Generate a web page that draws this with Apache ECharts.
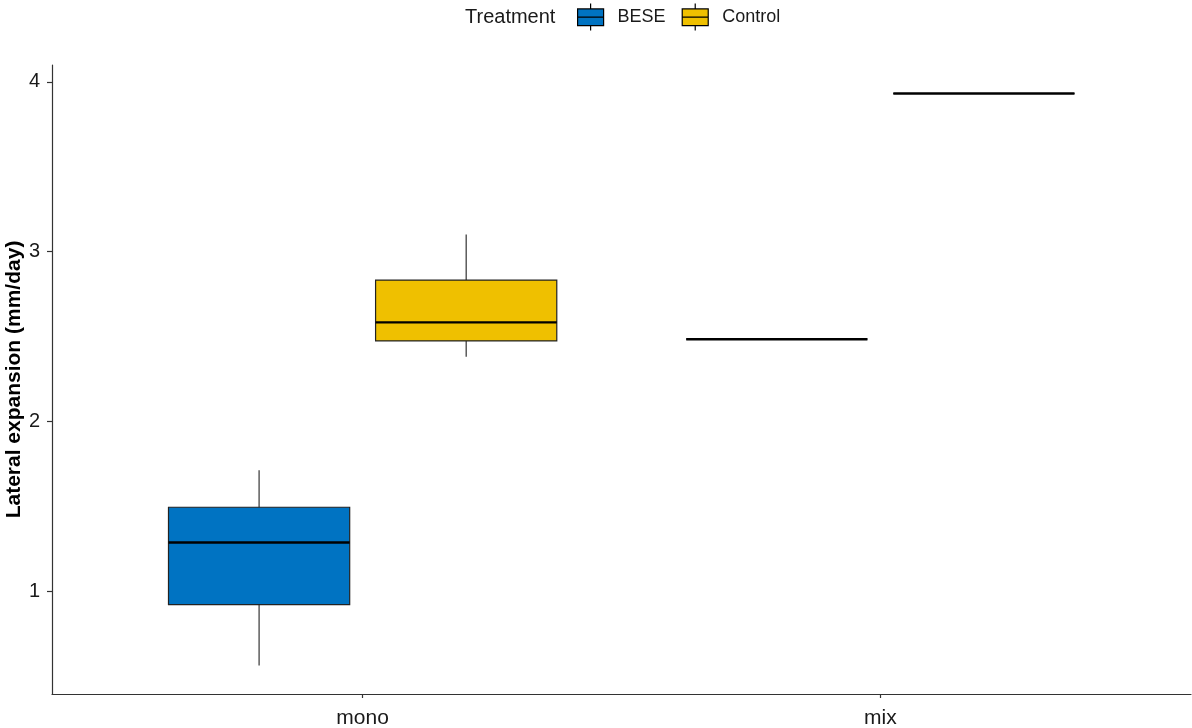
<!DOCTYPE html>
<html>
<head>
<meta charset="utf-8">
<title>Lateral expansion by treatment</title>
<script src="https://cdn.jsdelivr.net/npm/echarts@6/dist/echarts.min.js"></script>
<style>
  html, body { margin: 0; padding: 0; background: #ffffff; }
  #chart { width: 1192px; height: 728px; }
</style>
</head>
<body>
<div id="chart"></div>
<script>
// Community type on the x axis (plotted at positions 1, 2)
const categories = ['mono', 'mix'];
// Box statistics per category: [lower whisker, Q1, median, Q3, upper whisker]
const beseStats = [
  [0.562, 0.920, 1.286, 1.494, 1.712],
  [2.484, 2.484, 2.484, 2.484, 2.484]
];
const controlStats = [
  [2.380, 2.474, 2.583, 2.832, 3.100],
  [3.931, 3.931, 3.931, 3.931, 3.931]
];
const yTicks = [1, 2, 3, 4];
const seriesNames = ['BESE', 'Control'];
const seriesColors = ['#0073C2', '#EFC000'];

// Dodge offsets (in category units) and box half width
const dodge = [-0.2, 0.2];
const halfBox = 0.175;

function toRows(stats) {
  return stats.map((s, i) => [i + 1].concat(s));
}

function makeRenderer(seriesIndex) {
  return function (params, api) {
    const pos = api.value(0) + dodge[seriesIndex];
    const lo = api.value(1), q1 = api.value(2), med = api.value(3), q3 = api.value(4), hi = api.value(5);
    const cx = api.coord([pos, med])[0];
    const hw = api.size([halfBox, 0])[0];
    const yLo = api.coord([pos, lo])[1];
    const yQ1 = api.coord([pos, q1])[1];
    const yMed = api.coord([pos, med])[1];
    const yQ3 = api.coord([pos, q3])[1];
    const yHi = api.coord([pos, hi])[1];
    const fill = api.visual('color');
    const children = [];
    if (yHi < yQ3) {
      children.push({ type: 'line', shape: { x1: cx, y1: yHi, x2: cx, y2: yQ3 },
        style: { stroke: '#333333', lineWidth: 1.2 } });
    }
    if (yLo > yQ1) {
      children.push({ type: 'line', shape: { x1: cx, y1: yQ1, x2: cx, y2: yLo },
        style: { stroke: '#333333', lineWidth: 1.2 } });
    }
    children.push({ type: 'rect', shape: { x: cx - hw, y: yQ3, width: hw * 2, height: yQ1 - yQ3 },
      style: { fill: fill, stroke: '#222222', lineWidth: 1.2 } });
    children.push({ type: 'line', shape: { x1: cx - hw, y1: yMed, x2: cx + hw, y2: yMed },
      style: { stroke: '#000000', lineWidth: 2.4 } });
    return { type: 'group', children: children };
  };
}

const chart = echarts.init(document.getElementById('chart'), null, { renderer: 'canvas' });

const boxIcon = 'path://M13,0V5.3M0,5.3H26V22H0ZM0,13.5H26M13,22V27';

chart.setOption({
  backgroundColor: '#ffffff',
  animation: false,
  textStyle: { fontFamily: 'Liberation Sans, Arial, sans-serif' },
  title: {
    text: 'Treatment',
    left: 465,
    top: 7,
    padding: 0,
    textStyle: { fontSize: 20, fontWeight: 'normal', color: '#1a1a1a',
      fontFamily: 'Liberation Sans, Arial, sans-serif' }
  },
  legend: {
    left: 577,
    top: 3,
    padding: 0,
    orient: 'horizontal',
    itemWidth: 26,
    itemHeight: 27,
    itemGap: 16,
    icon: boxIcon,
    itemStyle: { borderColor: '#000000', borderWidth: 1.2 },
    textStyle: { fontSize: 18, color: '#1a1a1a', padding: [2, 0, 0, 9],
      fontFamily: 'Liberation Sans, Arial, sans-serif' },
    data: seriesNames
  },
  grid: { left: 52, right: 1, top: 65, bottom: 34, containLabel: false, outerBoundsMode: 'none' },
  xAxis: {
    type: 'value',
    min: 0.4,
    max: 2.6,
    splitLine: { show: false },
    axisLine: { show: true, lineStyle: { color: '#333333', width: 1.2 } },
    axisTick: { show: true, customValues: [1, 2], length: 4,
      lineStyle: { color: '#333333', width: 1.2 } },
    axisLabel: {
      customValues: [1, 2],
      formatter: v => categories[Math.round(v) - 1],
      fontSize: 21, color: '#1a1a1a', margin: 14
    }
  },
  yAxis: {
    type: 'value',
    min: 0.394,
    max: 4.099,
    name: 'Lateral expansion (mm/day)',
    nameLocation: 'middle',
    nameGap: 27,
    nameMoveOverlap: false,
    nameTextStyle: { fontSize: 21, fontWeight: 'bold', color: '#000000' },
    splitLine: { show: false },
    axisLine: { show: true, lineStyle: { color: '#333333', width: 1.2 } },
    axisTick: { show: true, customValues: yTicks, length: 5,
      lineStyle: { color: '#333333', width: 1.2 } },
    axisLabel: {
      customValues: yTicks,
      fontSize: 20, color: '#1a1a1a', margin: 12
    }
  },
  series: [
    {
      name: seriesNames[0],
      type: 'custom',
      itemStyle: { color: seriesColors[0] },
      renderItem: makeRenderer(0),
      encode: { x: 0, y: [1, 2, 3, 4, 5] },
      data: toRows(beseStats)
    },
    {
      name: seriesNames[1],
      type: 'custom',
      itemStyle: { color: seriesColors[1] },
      renderItem: makeRenderer(1),
      encode: { x: 0, y: [1, 2, 3, 4, 5] },
      data: toRows(controlStats)
    }
  ]
});
</script>
</body>
</html>
